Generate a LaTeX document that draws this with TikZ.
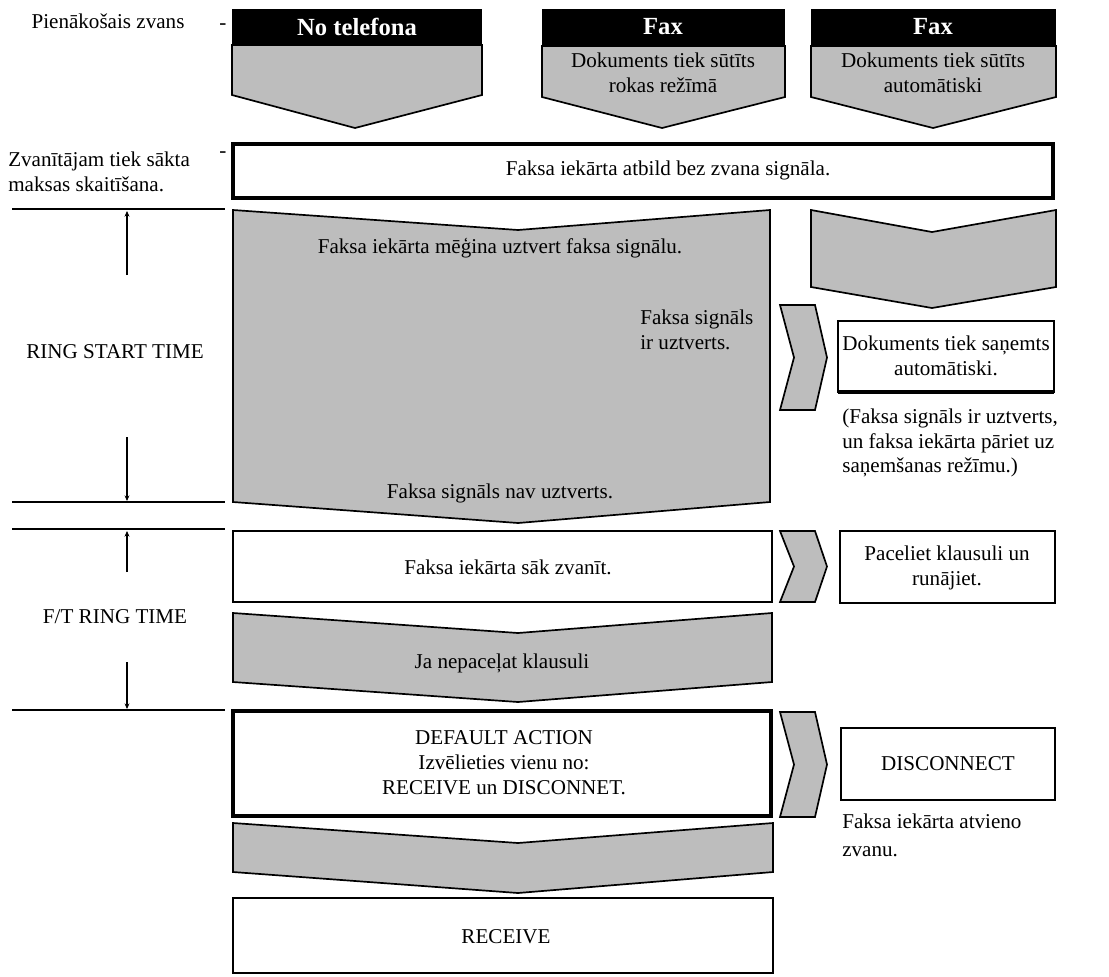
\documentclass[tikz,border=0pt]{standalone}
\usepackage{fontspec}
\setmainfont{Liberation Serif}
\usetikzlibrary{positioning,arrows.meta}
\colorlet{chevgray}{black!26}
\tikzset{
  txt/.style={font=\fontsize{15}{17.7}\selectfont, align=center, inner sep=0pt},
  note/.style={txt, align=left, anchor=west},
  hdrtext/.style={text=white, font=\fontsize{17.5}{19}\selectfont\bfseries, inner sep=0pt},
  chev/.style={fill=chevgray, draw=black, line width=1.2pt, line join=miter},
  plainbox/.style={draw=black, line width=1.3pt, fill=white},
  heavybox/.style={plainbox, line width=2.3pt},
  timeline/.style={line width=0.9pt},
  span/.style={line width=1.4pt, -{Stealth[length=4pt,width=3.5pt]}},
}
% downward chevron: left, tip x, right, top, bottom, notch depth, tip depth
\newcommand{\chevdown}[7]{%
  \filldraw[chev] (#1,#4) -- (#2,#4+#6) -- (#3,#4) -- (#3,#5) -- (#2,#5+#7) -- (#1,#5) -- cycle;}
% small chevron pointing right: left x, top, bottom
\newcommand{\chevright}[3]{%
  \filldraw[chev] (#1,#2) -- (#1+35,#2) -- (#1+47,{(#2+#3)/2}) -- (#1+35,#3) -- (#1,#3) -- (#1+14,{(#2+#3)/2}) -- cycle;}

\begin{document}
\begin{tikzpicture}[x=0.025cm,y=-0.025cm]
  \useasboundingbox (0,0) rectangle (1109,976);

  % left column
  \node[txt] (incall) at (108,21) {Pienākošais zvans};
  \node[txt] (dashA) at (223,27) {-};
  \node[note] (charge) at (8,172) {Zvanītājam tiek sākta\\maksas skaitīšana.};
  \node[txt] (dashB) at (223,155) {-};

  \draw[timeline] (12,209) -- (225,209);
  \draw[timeline] (12,502) -- (225,502);
  \coordinate (rsA) at (127,275);
  \coordinate (rsB) at (127,211);
  \coordinate (rsC) at (127,437);
  \coordinate (rsD) at (127,501);
  \draw[span] (rsA) -- (rsB);
  \draw[span] (rsC) -- (rsD);
  \node[txt] (ringstart) at (115,352) {RING START TIME};

  \draw[timeline] (12,529) -- (225,529);
  \draw[timeline] (12,710) -- (225,710);
  \coordinate (ftA) at (127,572);
  \coordinate (ftB) at (127,531);
  \coordinate (ftC) at (127,662);
  \coordinate (ftD) at (127,709);
  \draw[span] (ftA) -- (ftB);
  \draw[span] (ftC) -- (ftD);
  \node[txt] (ftring) at (115,617) {F/T RING TIME};

  % headers
  \fill (232,9) rectangle (482,45);
  \filldraw[chev] (232,45) -- (482,45) -- (482,95) -- (355,128) -- (232,95) -- cycle;
  \node[hdrtext] (phone) at (357,27) {No telefona};

  \fill (542,9) rectangle (785,46);
  \filldraw[chev] (542,46) -- (785,46) -- (785,97) -- (662,128) -- (542,97) -- cycle;
  \node[hdrtext] (faxman) at (663,27) {Fax};
  \node[txt] (manual) at (663,73) {Dokuments tiek sūtīts\\rokas režīmā};

  \fill (811,9) rectangle (1056,46);
  \filldraw[chev] (811,46) -- (1056,46) -- (1056,97) -- (933,128) -- (811,97) -- cycle;
  \node[hdrtext] (faxauto) at (933,27) {Fax};
  \node[txt] (autosend) at (933,73) {Dokuments tiek sūtīts\\automātiski};

  % answer row
  \draw[heavybox] (233,144) rectangle (1053,198);
  \node[txt] (answer) at (668,170) {Faksa iekārta atbild bez zvana signāla.};

  % ring start time
  \chevdown{233}{518}{770}{210}{502}{20}{21}
  \node[txt] (detect) at (500,248) {Faksa iekārta mēģina uztvert faksa signālu.};
  \node[note] (found) at (640,330) {Faksa signāls\\ir uztverts.};
  \node[txt] (notfound) at (500,493) {Faksa signāls nav uztverts.};

  \chevdown{811}{932}{1056}{210}{287}{22}{21}
  \chevright{780}{305}{410}
  \draw[plainbox] (838,321) rectangle (1054,392);
  \draw[line width=2.3pt] (838,392) -- (1054,392);
  \node[txt] (autorecv) at (946,356) {Dokuments tiek saņemts\\automātiski.};
  \node[note] (recvnote) at (842,443) {(Faksa signāls ir uztverts,\\un faksa iekārta pāriet uz\\saņemšanas režīmu.)};

  % F/T ring time
  \draw[plainbox] (233,531) rectangle (772,602);
  \node[txt] (ringing) at (508,567) {Faksa iekārta sāk zvanīt.};
  \chevright{780}{531}{602}
  \draw[plainbox] (840,531) rectangle (1055,603);
  \node[txt] (pickup) at (947,568) {Paceliet klausuli un\\runājiet.};
  \chevdown{233}{518}{772}{613}{682}{20}{20}
  \node[txt] (nopick) at (502,663) {Ja nepaceļat klausuli};

  % default action
  \draw[heavybox] (233,711) rectangle (771,816);
  \node[txt] (default) at (504,763) {DEFAULT ACTION\\Izvēlieties vienu no:\\RECEIVE un DISCONNET.};
  \chevright{780}{712}{817}
  \draw[plainbox] (841,728) rectangle (1055,800);
  \node[txt] (disc) at (948,764) {DISCONNECT};
  \node[note, font=\fontsize{15}{20}\selectfont] (discnote) at (842,835) {Faksa iekārta atvieno\\zvanu.};
  \chevdown{233}{518}{773}{823}{872}{20}{21}
  \draw[plainbox] (233,898) rectangle (773,973);
  \node[txt] (receive) at (506,937) {RECEIVE};
\end{tikzpicture}
\end{document}
